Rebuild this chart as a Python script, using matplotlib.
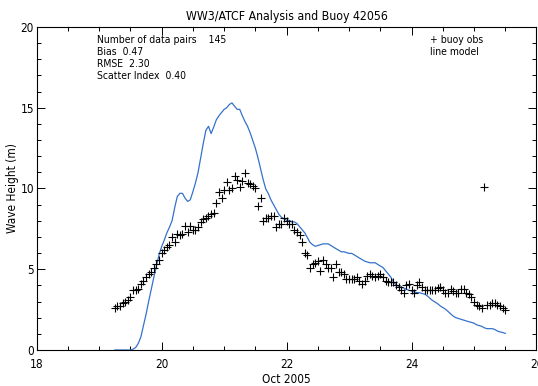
import numpy as np
import matplotlib
matplotlib.use("Agg")
import matplotlib.pyplot as plt
from matplotlib.ticker import MultipleLocator

# ---------------- data ----------------
start_day = 19.25          # Oct 19, 06 UTC (hourly samples)
obs_height = [
    2.6, 2.7, 2.7, 2.9, 3.0, 3.1, 3.3, 3.7, 3.7, 3.8,
    4.1, 4.3, 4.5, 4.7, 4.8, 5.1, 5.3, 5.6, 6.0, 6.2,
    6.4, 6.5, 7.0, 6.7, 7.2, 7.1, 7.2, 7.7, 7.3, 7.7,
    7.4, 7.4, 7.6, 7.9, 8.1, 8.2, 8.3, 8.4, 8.5, 9.1,
    9.8, 9.4, 9.9, 10.4, 9.9, 10.0, 10.75, 10.55, 10.1, 10.45,
    10.95, 10.35, 10.25, 10.15, 10.05, 8.9, 9.4, 8.0, 8.2, 8.2,
    8.3, 8.3, 7.6, 7.8, 7.8, 8.2, 8.0, 7.8, 7.8, 7.4,
    7.3, 7.15, 6.7, 6.0, 5.9, 5.1, 5.3, 5.4, 5.5, 4.9,
    5.6, 5.3, 5.1, 5.1, 4.5, 5.3, 4.8, 4.8, 4.7, 4.4,
    4.4, 4.4, 4.4, 4.5, 4.3, 4.1, 4.3, 4.6, 4.7, 4.6,
    4.5, 4.6, 4.7, 4.5, 4.3, 4.2, 4.2, 4.2, 4.0, 3.9,
    3.7, 3.55, 4.0, 4.1, 3.7, 3.55, 4.0, 4.2, 3.9, 3.7,
    3.7, 3.7, 3.7, 3.7, 3.85, 3.9, 3.7, 3.55, 3.55, 3.75,
    3.65, 3.55, 3.55, 3.75, 3.75, 3.55, 3.45, 3.3, 2.95, 2.8,
    2.7, 2.6, 10.1, 2.8, 2.8, 2.9, 2.9, 2.8, 2.7, 2.6,
    2.5,
]
model_height = [
    0.0, 0.0, 0.0, 0.0, 0.0, 0.0, 0.0, 0.05, 0.15, 0.4,
    0.8, 1.5, 2.2, 3.0, 3.75, 4.5, 5.2, 5.9, 6.4, 6.8,
    7.25, 7.6, 8.0, 8.8, 9.5, 9.7, 9.7, 9.4, 9.2, 9.3,
    9.8, 10.35, 11.0, 11.9, 12.8, 13.6, 13.85, 13.4, 13.8, 14.25,
    14.5, 14.7, 14.9, 15.0, 15.2, 15.3, 15.1, 14.9, 14.9, 14.5,
    14.15, 13.85, 13.45, 12.98, 12.5, 11.9, 11.23, 10.55, 9.97, 9.68,
    9.29, 9.0, 8.7, 8.41, 8.22, 8.12, 8.03, 8.03, 7.93, 7.93,
    7.83, 7.63, 7.44, 7.25, 6.95, 6.66, 6.52, 6.42, 6.47, 6.52,
    6.57, 6.57, 6.57, 6.47, 6.37, 6.27, 6.18, 6.08, 6.08, 6.03,
    5.98, 5.98, 5.89, 5.79, 5.69, 5.6, 5.5, 5.45, 5.4, 5.4,
    5.4, 5.3, 5.2, 5.11, 4.91, 4.72, 4.52, 4.23, 4.04, 3.94,
    3.89, 3.84, 3.75, 3.7, 3.65, 3.6, 3.55, 3.55, 3.5, 3.46,
    3.36, 3.21, 3.07, 2.97, 2.87, 2.73, 2.63, 2.53, 2.39, 2.24,
    2.1, 2.0, 1.95, 1.9, 1.85, 1.8, 1.75, 1.71, 1.66, 1.56,
    1.51, 1.46, 1.37, 1.32, 1.32, 1.32, 1.27, 1.17, 1.12, 1.08,
    1.03,
]
stats_lines = ["Number of data pairs    145", "Bias  0.47", "RMSE  2.30", "Scatter Index  0.40"]
legend_lines = ["+ buoy obs", "line model"]
title = "WW3/ATCF Analysis and Buoy 42056"
xlabel = "Oct 2005"
ylabel = "Wave Height (m)"

obs_time = start_day + np.arange(len(obs_height)) / 24.0
model_time = start_day + np.arange(len(model_height)) / 24.0

# ---------------- style ----------------
plt.rcParams['font.family'] = ["DejaVu Sans"]
plt.rcParams['font.stretch'] = "condensed"

fig = plt.figure(figsize=(5.38, 3.86), dpi=100)
ax = fig.add_axes([0.0682, 0.0933, 0.929, 0.8368])

ax.plot(model_time, model_height, color="#3472cc", lw=0.9)
ax.plot(obs_time, obs_height, linestyle="none", marker="+", color="black",
        markersize=5.5, markeredgewidth=0.8)

ax.set_xlim(18, 26)
ax.set_ylim(0, 20)
ax.xaxis.set_major_locator(MultipleLocator(2))
ax.xaxis.set_minor_locator(MultipleLocator(0.5))
ax.yaxis.set_major_locator(MultipleLocator(5))
ax.yaxis.set_minor_locator(MultipleLocator(1))
ax.tick_params(which="both", direction="in", top=True, right=True,
               labelsize=8.5, width=0.7)
ax.tick_params(axis="x", pad=6)
ax.tick_params(axis="y", pad=2)
ax.tick_params(which="major", length=5.5)
ax.tick_params(which="minor", length=3)
for s in ax.spines.values():
    s.set_linewidth(0.8)

ax.set_title(title, fontsize=8.8, pad=5)
ax.set_xlabel(xlabel, fontsize=8.5, labelpad=1)
ax.set_ylabel(ylabel, fontsize=8.5, labelpad=1)

for i, t in enumerate(stats_lines):
    ax.text(0.12, 0.975 - i * 0.037, t, transform=ax.transAxes, fontsize=7.5,
            va="top", ha="left")
for i, t in enumerate(legend_lines):
    ax.text(0.787, 0.975 - i * 0.037, t, transform=ax.transAxes, fontsize=7.5,
            va="top", ha="left")

fig.savefig("out.png", dpi=100)
